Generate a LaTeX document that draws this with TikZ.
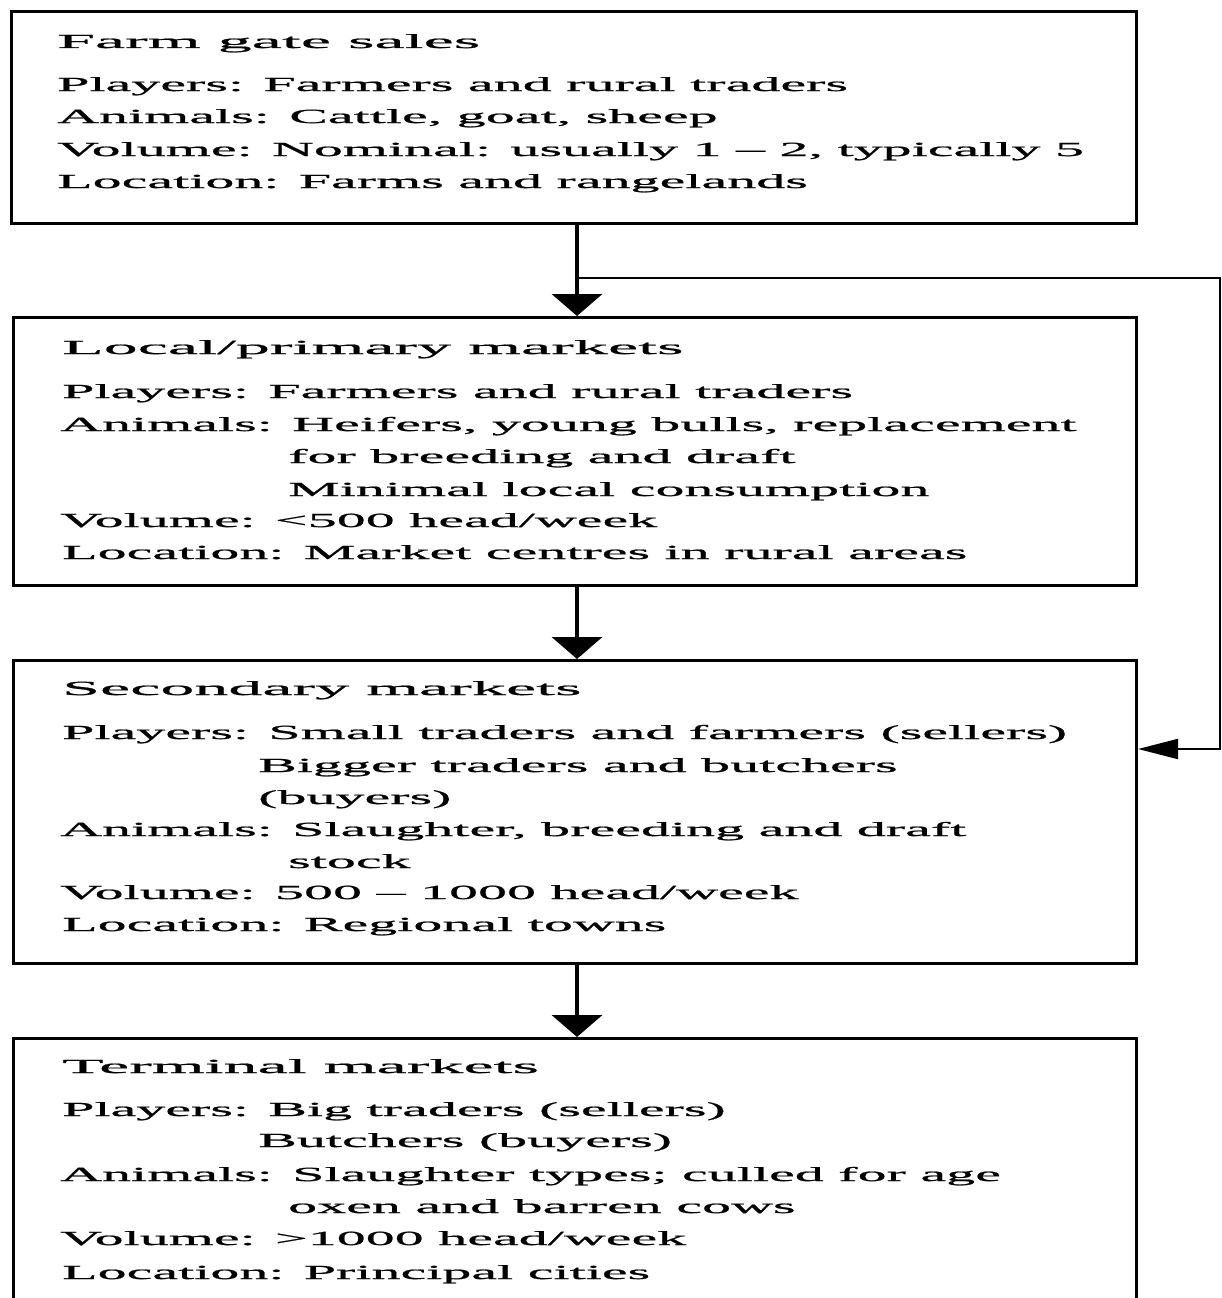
\documentclass[tikz,border=0pt]{standalone}
\usepackage{fontspec}
\newfontfamily\widefont[FakeStretch=2.9,FakeBold=1]{Liberation Serif}
\newfontfamily\titlefont[FakeStretch=3.4,FakeBold=1]{Liberation Serif}
\usetikzlibrary{arrows.meta}
\tikzset{
  box/.style={draw, line width=3pt, anchor=north west, inner sep=0pt},
  txt/.style={anchor=base west, inner sep=0pt, font=\widefont\fontsize{20pt}{24pt}\selectfont},
  ttl/.style={anchor=base west, inner sep=0pt, font=\titlefont\fontsize{20pt}{24pt}\selectfont},
  flow/.style={line width=4pt, -{Triangle[width=50pt,length=22pt]}},
  back/.style={line width=2pt, -{Triangle[width=20pt,length=40pt]}}
}
\begin{document}
\begin{tikzpicture}[x=1pt,y=-1pt]
\useasboundingbox (0,0) rectangle (1221,1298);
\clip (0,0) rectangle (1221,1298);
% boxes
\node[box, minimum width=1125pt, minimum height=212pt] (b1) at (10,10) {};
\node[box, minimum width=1123pt, minimum height=268pt] (b2) at (12,316) {};
\node[box, minimum width=1123pt, minimum height=303pt] (b3) at (12,659) {};
\node[box, minimum width=1123pt, minimum height=300pt] (b4) at (12,1037) {};
% box 1
\node[ttl] (t1a) at (57,48) {Farm gate sales};
\node[txt] (t1b) at (57,91) {Players: Farmers and rural traders};
\node[txt] (t1c) at (57,123) {Animals: Cattle, goat, sheep};
\node[txt] (t1d) at (57,156) {Volume: Nominal: usually 1 – 2, typically 5};
\node[txt] (t1e) at (57,188) {Location: Farms and rangelands};
% box 2
\node[ttl] (t2a) at (62,354) {Local/primary markets};
\node[txt] (t2b) at (62,398) {Players: Farmers and rural traders};
\node[txt] (t2c) at (60,431) {Animals: Heifers, young bulls, replacement};
\node[txt] (t2d) at (288,463) {for breeding and draft};
\node[txt] (t2e) at (288,496) {Minimal local consumption};
\node[txt] (t2f) at (60,527) {Volume: <500 head/week};
\node[txt] (t2g) at (62,559) {Location: Market centres in rural areas};
% box 3
\node[ttl] (t3a) at (62,695) {Secondary markets};
\node[txt] (t3b) at (62,739) {Players: Small traders and farmers (sellers)};
\node[txt] (t3c) at (258,772) {Bigger traders and butchers};
\node[txt] (t3d) at (258,804) {(buyers)};
\node[txt] (t3e) at (60,836) {Animals: Slaughter, breeding and draft};
\node[txt] (t3f) at (288,868) {stock};
\node[txt] (t3g) at (60,899) {Volume: 500 – 1000 head/week};
\node[txt] (t3h) at (62,931) {Location: Regional towns};
% box 4
\node[ttl] (t4a) at (62,1073) {Terminal markets};
\node[txt] (t4b) at (62,1116) {Players: Big traders (sellers)};
\node[txt] (t4c) at (258,1147) {Butchers (buyers)};
\node[txt] (t4d) at (60,1181) {Animals: Slaughter types; culled for age};
\node[txt] (t4e) at (288,1213) {oxen and barren cows};
\node[txt] (t4f) at (60,1245) {Volume: >1000 head/week};
\node[txt] (t4g) at (62,1279) {Location: Principal cities};
% connectors
\draw[flow] (b1.south -| 577,0) -- (b2.north -| 577,0);
\draw[flow] (b2.south -| 577,0) -- (b3.north -| 577,0);
\draw[flow] (b3.south -| 577,0) -- (b4.north -| 577,0);
\coordinate (split) at (577,278);
\coordinate (corner) at (1220,278);
\draw[back] (split) -- (corner) |- (b3.east |- 0,749);
\end{tikzpicture}
\end{document}
